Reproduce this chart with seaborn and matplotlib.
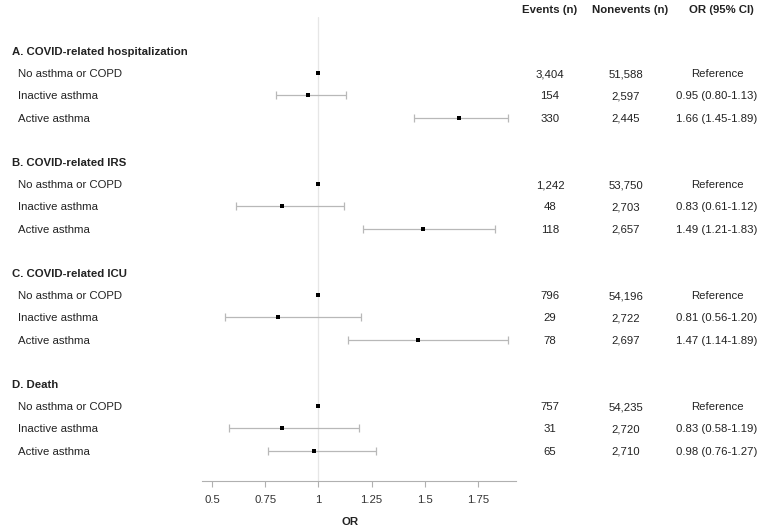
import numpy as np
import pandas as pd
import matplotlib
matplotlib.use("Agg")
import matplotlib.pyplot as plt
import matplotlib.transforms as mtransforms
import seaborn as sns

# ---- data ----
groups = ["A. COVID-related hospitalization", "B. COVID-related IRS",
          "C. COVID-related ICU", "D. Death"]
categories = ["No asthma or COPD", "Inactive asthma", "Active asthma"]

or_A = [1.00, 0.95, 1.66]
lo_A = [np.nan, 0.80, 1.45]
hi_A = [np.nan, 1.13, 1.89]
ev_A = ["3,404", "154", "330"]
nev_A = ["51,588", "2,597", "2,445"]
ci_A = ["Reference", "0.95 (0.80-1.13)", "1.66 (1.45-1.89)"]

or_B = [1.00, 0.83, 1.49]
lo_B = [np.nan, 0.61, 1.21]
hi_B = [np.nan, 1.12, 1.83]
ev_B = ["1,242", "48", "118"]
nev_B = ["53,750", "2,703", "2,657"]
ci_B = ["Reference", "0.83 (0.61-1.12)", "1.49 (1.21-1.83)"]

or_C = [1.00, 0.81, 1.47]
lo_C = [np.nan, 0.56, 1.14]
hi_C = [np.nan, 1.20, 1.89]
ev_C = ["796", "29", "78"]
nev_C = ["54,196", "2,722", "2,697"]
ci_C = ["Reference", "0.81 (0.56-1.20)", "1.47 (1.14-1.89)"]

or_D = [1.00, 0.83, 0.98]
lo_D = [np.nan, 0.58, 0.76]
hi_D = [np.nan, 1.19, 1.27]
ev_D = ["757", "31", "65"]
nev_D = ["54,235", "2,720", "2,710"]
ci_D = ["Reference", "0.83 (0.58-1.19)", "0.98 (0.76-1.27)"]

col_headers = ["Events (n)", "Nonevents (n)", "OR (95% CI)"]
xticks = [0.5, 0.75, 1, 1.25, 1.5, 1.75]
xticklabels = ["0.5", "0.75", "1", "1.25", "1.5", "1.75"]

all_or = [or_A, or_B, or_C, or_D]
all_lo = [lo_A, lo_B, lo_C, lo_D]
all_hi = [hi_A, hi_B, hi_C, hi_D]
all_ev = [ev_A, ev_B, ev_C, ev_D]
all_nev = [nev_A, nev_B, nev_C, nev_D]
all_ci = [ci_A, ci_B, ci_C, ci_D]

# ---- layout (pixel-based rows) ----
W, H = 759, 530
row0 = 51.0      # heading A y (px)
step = 22.2      # px per row
FS = 8.2

records = []
headings = []
for g, name in enumerate(groups):
    base = row0 + g * 5 * step
    headings.append((base, name))
    for i, cat in enumerate(categories):
        records.append(dict(y=base + (i + 1) * step, label=cat,
                            OR=all_or[g][i], lo=all_lo[g][i], hi=all_hi[g][i],
                            ev=all_ev[g][i], nev=all_nev[g][i], ci=all_ci[g][i]))
df = pd.DataFrame(records)

sns.set_theme(style="white")
plt.rcParams["font.family"] = ["Liberation Sans", "DejaVu Sans"]

fig = plt.figure(figsize=(W / 100, H / 100), dpi=100)
ax_left, ax_right = 202, 516
ax_top, ax_bot = 17, 481
ax = fig.add_axes([ax_left / W, 1 - ax_bot / H, (ax_right - ax_left) / W, (ax_bot - ax_top) / H])
ax.set_xlim(0.4515, 1.930)
ax.set_ylim(ax_bot, ax_top)

ax.axvline(1, color="#e6e6e6", lw=0.9, zorder=0)

m = df["lo"].notna()
ax.errorbar(df.loc[m, "OR"], df.loc[m, "y"],
            xerr=[df.loc[m, "OR"] - df.loc[m, "lo"], df.loc[m, "hi"] - df.loc[m, "OR"]],
            fmt="none", ecolor="#b8b8b8", elinewidth=0.9, capsize=2.6, capthick=0.9, zorder=1)
sns.scatterplot(data=df, x="OR", y="y", marker="s", color="black", s=9,
                edgecolor="black", linewidth=0, ax=ax, zorder=3, legend=False)

for s in ["top", "right", "left"]:
    ax.spines[s].set_visible(False)
ax.spines["bottom"].set_color("#b0b0b0")
ax.spines["bottom"].set_linewidth(0.8)
ax.set_yticks([])
ax.set_ylabel("")
ax.set_xticks(xticks)
ax.set_xticklabels(xticklabels)
ax.tick_params(axis="x", colors="#b0b0b0", labelcolor="#333333", labelsize=FS,
               length=4, width=0.8, pad=6, bottom=True)
ax.set_xlabel("OR", fontsize=FS, fontweight="bold", color="#222222")
ax.xaxis.set_label_coords((350 - ax_left) / (ax_right - ax_left), -(522 - ax_bot) / (ax_bot - ax_top))
ax.xaxis.label.set_verticalalignment("center")

trans = mtransforms.blended_transform_factory(fig.transFigure, ax.transData)
txt_color = "#222222"
VA = "center_baseline"
for y, name in headings:
    ax.text(12 / W, y, name, transform=trans, ha="left", va=VA,
            fontsize=FS, fontweight="bold", color=txt_color, clip_on=False)
for _, r in df.iterrows():
    ax.text(18 / W, r["y"], r["label"], transform=trans, ha="left", va=VA,
            fontsize=FS, color=txt_color, clip_on=False)
    ax.text(550 / W, r["y"], r["ev"], transform=trans, ha="center", va=VA,
            fontsize=FS, color=txt_color, clip_on=False)
    ax.text(626 / W, r["y"], r["nev"], transform=trans, ha="center", va=VA,
            fontsize=FS, color=txt_color, clip_on=False)
    ax.text(717 / W, r["y"], r["ci"], transform=trans, ha="center", va=VA,
            fontsize=FS, color=txt_color, clip_on=False)

for xpx, h in zip([550, 630, 721], col_headers):
    fig.text(xpx / W, 1 - 9 / H, h, ha="center", va=VA, fontsize=FS,
             fontweight="bold", color=txt_color)

fig.savefig("out.png", dpi=100)
